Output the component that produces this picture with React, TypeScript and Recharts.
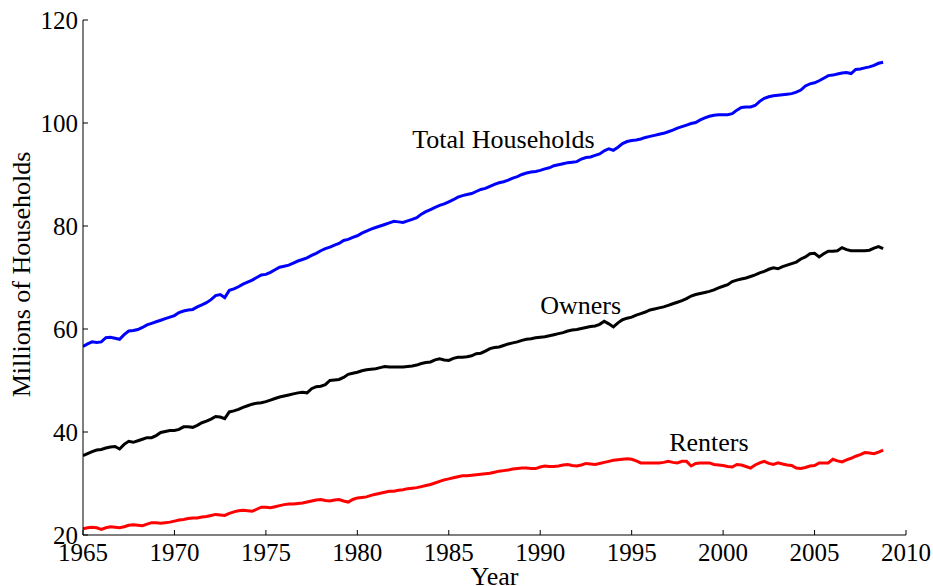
import React from 'react';
import {
  LineChart,
  Line,
  XAxis,
  YAxis,
  ReferenceDot,
  Label,
} from 'recharts';

// quarterly observations, 1965Q1 .. 2008Q4 (millions)
const START_YEAR = 1965;

const totalHouseholds = [
  56.6, 57.1, 57.5, 57.4, 57.5, 58.3, 58.4, 58.2,
  58.0, 58.9, 59.6, 59.7, 59.9, 60.3, 60.8, 61.1,
  61.4, 61.7, 62.0, 62.3, 62.6, 63.2, 63.5, 63.7,
  63.8, 64.3, 64.7, 65.1, 65.7, 66.5, 66.7, 66.1,
  67.5, 67.8, 68.2, 68.7, 69.1, 69.5, 70.0, 70.5,
  70.6, 71.0, 71.5, 72.0, 72.2, 72.4, 72.8, 73.2,
  73.5, 73.8, 74.3, 74.7, 75.2, 75.6, 75.9, 76.3,
  76.6, 77.2, 77.4, 77.8, 78.1, 78.6, 79.0, 79.4,
  79.7, 80.0, 80.3, 80.6, 80.9, 80.8, 80.7, 81.0,
  81.3, 81.6, 82.3, 82.8, 83.2, 83.6, 84.0, 84.3,
  84.7, 85.1, 85.6, 85.9, 86.1, 86.3, 86.7, 87.1,
  87.3, 87.7, 88.1, 88.4, 88.6, 88.9, 89.3, 89.6,
  90.0, 90.3, 90.5, 90.6, 90.8, 91.1, 91.3, 91.7,
  91.9, 92.1, 92.3, 92.4, 92.5, 93.0, 93.3, 93.4,
  93.7, 94.0, 94.6, 95.0, 94.7, 95.3, 96.0, 96.4,
  96.6, 96.7, 96.9, 97.2, 97.4, 97.6, 97.8, 98.0,
  98.3, 98.6, 99.0, 99.3, 99.6, 99.9, 100.1, 100.6,
  101.0, 101.3, 101.5, 101.6, 101.6, 101.6, 101.8, 102.5,
  103.0, 103.1, 103.1, 103.4, 104.2, 104.8, 105.1, 105.3,
  105.4, 105.5, 105.6, 105.7, 106.0, 106.4, 107.2, 107.6,
  107.8, 108.2, 108.7, 109.2, 109.3, 109.5, 109.7, 109.8,
  109.6, 110.4, 110.5, 110.7, 110.9, 111.2, 111.6, 111.8,
];

const owners = [
  35.4, 35.8, 36.2, 36.5, 36.6, 36.9, 37.1, 37.2,
  36.7, 37.6, 38.2, 38.0, 38.3, 38.6, 38.9, 38.9,
  39.3, 39.9, 40.1, 40.3, 40.3, 40.5, 41.0, 41.0,
  40.9, 41.3, 41.8, 42.1, 42.5, 43.0, 42.9, 42.6,
  43.9, 44.1, 44.4, 44.8, 45.1, 45.4, 45.6, 45.7,
  45.9, 46.2, 46.5, 46.8, 47.0, 47.2, 47.4, 47.6,
  47.7, 47.6, 48.4, 48.8, 48.9, 49.2, 50.0, 50.1,
  50.2, 50.6, 51.2, 51.4, 51.6, 51.9, 52.1, 52.2,
  52.3, 52.5, 52.7, 52.6, 52.6, 52.6, 52.6, 52.7,
  52.8, 53.0, 53.3, 53.5, 53.6, 54.0, 54.2, 54.0,
  53.9, 54.3, 54.5, 54.5, 54.6, 54.8, 55.2, 55.3,
  55.7, 56.2, 56.4, 56.5, 56.8, 57.1, 57.3, 57.5,
  57.8, 58.0, 58.1, 58.3, 58.4, 58.5, 58.7, 58.9,
  59.1, 59.3, 59.6, 59.8, 59.9, 60.1, 60.3, 60.5,
  60.6, 60.9, 61.5, 61.0, 60.4, 61.2, 61.8, 62.1,
  62.3, 62.7, 63.0, 63.3, 63.7, 63.9, 64.1, 64.3,
  64.6, 64.9, 65.2, 65.5, 65.9, 66.4, 66.7, 66.9,
  67.1, 67.3, 67.6, 68.0, 68.3, 68.6, 69.2, 69.5,
  69.7, 69.9, 70.2, 70.5, 70.9, 71.2, 71.6, 71.9,
  71.7, 72.1, 72.4, 72.7, 73.0, 73.6, 74.0, 74.6,
  74.7, 74.0, 74.6, 75.1, 75.1, 75.2, 75.8, 75.4,
  75.2, 75.2, 75.2, 75.2, 75.3, 75.7, 76.0, 75.6,
];

const renters = [
  21.2, 21.4, 21.5, 21.4, 21.1, 21.4, 21.6, 21.5,
  21.4, 21.6, 21.9, 22.0, 21.9, 21.8, 22.1, 22.4,
  22.4, 22.3, 22.4, 22.5, 22.7, 22.9, 23.0, 23.2,
  23.3, 23.3, 23.5, 23.6, 23.8, 24.0, 23.9, 23.8,
  24.2, 24.5, 24.7, 24.8, 24.7, 24.6, 25.0, 25.4,
  25.4, 25.3, 25.5, 25.7, 25.9, 26.0, 26.0, 26.1,
  26.2, 26.4, 26.6, 26.8, 26.9, 26.7, 26.6, 26.8,
  26.9, 26.6, 26.4, 26.9, 27.2, 27.3, 27.4, 27.7,
  27.9, 28.1, 28.3, 28.5, 28.5, 28.7, 28.8, 29.0,
  29.1, 29.2, 29.4, 29.6, 29.8, 30.1, 30.4, 30.7,
  30.9, 31.1, 31.3, 31.5, 31.5, 31.6, 31.7, 31.8,
  31.9, 32.0, 32.2, 32.4, 32.5, 32.6, 32.8, 32.9,
  33.0, 33.0, 32.9, 32.9, 33.2, 33.4, 33.3, 33.3,
  33.4, 33.6, 33.7, 33.5, 33.4, 33.6, 33.9, 33.8,
  33.7, 33.9, 34.1, 34.3, 34.5, 34.6, 34.7, 34.8,
  34.7, 34.4, 34.0, 34.0, 34.0, 34.0, 34.0, 34.1,
  34.3, 34.1, 34.0, 34.3, 34.3, 33.4, 33.9, 34.0,
  34.0, 34.0, 33.7, 33.6, 33.5, 33.3, 33.2, 33.7,
  33.6, 33.3, 33.0, 33.6, 34.0, 34.3, 33.9, 33.7,
  34.0, 33.8, 33.6, 33.5, 33.0, 32.9, 33.1, 33.4,
  33.5, 34.0, 34.0, 34.0, 34.7, 34.4, 34.2, 34.6,
  34.9, 35.3, 35.6, 36.0, 35.9, 35.8, 36.1, 36.5,
];

const xTicks = [1965, 1970, 1975, 1980, 1985, 1990, 1995, 2000, 2005, 2010];
const yTicks = [20, 40, 60, 80, 100, 120];

// series labels: [text, year, value at baseline]
const seriesLabels: [string, number, number][] = [
  ['Total Households', 1983.0, 95.2],
  ['Owners', 1990.0, 63.0],
  ['Renters', 1997.05, 36.4],
];

const FONT = '"Liberation Serif", "Times New Roman", serif';

const data = totalHouseholds.map((t, i) => ({
  year: START_YEAR + i * 0.25,
  total: t,
  owners: owners[i],
  renters: renters[i],
}));

const tickStyle = { fontFamily: FONT, fontSize: 25, fill: '#000' };

export default function App() {
  return (
    <div style={{ position: 'absolute', left: 0, top: 0, width: 933, height: 586, background: '#fff' }}>
      <LineChart width={933} height={586} data={data} margin={{ top: 20, right: 27, bottom: 11, left: 23 }}>
        <XAxis
          dataKey="year"
          type="number"
          domain={[1965, 2010]}
          ticks={xTicks}
          allowDataOverflow
          height={40}
          tickSize={-5}
          tickMargin={13}
          tick={tickStyle}
          stroke="#000"
          tickLine={{ stroke: '#000' }}
        >
          <Label
            content={({ viewBox }: any) => (
              <text
                x={viewBox.x + viewBox.width / 2}
                y={585}
                textAnchor="middle"
                fontFamily={FONT}
                fontSize={26}
                fill="#000"
              >
                Year
              </text>
            )}
          />
        </XAxis>
        <YAxis
          type="number"
          domain={[20, 120]}
          ticks={yTicks}
          allowDataOverflow
          width={60}
          tickSize={-5}
          tickMargin={10}
          tick={tickStyle}
          stroke="#000"
          tickLine={{ stroke: '#000' }}
        >
          <Label
            content={({ viewBox }: any) => {
              const cx = 21;
              const cy = viewBox.y + viewBox.height / 2 - 3;
              return (
                <text
                  x={cx}
                  y={cy}
                  transform={`rotate(-90 ${cx} ${cy})`}
                  textAnchor="middle"
                  dominantBaseline="central"
                  fontFamily={FONT}
                  fontSize={26}
                  fill="#000"
                >
                  Millions of Households
                </text>
              );
            }}
          />
        </YAxis>
        <Line type="linear" dataKey="total" stroke="#0000ff" strokeWidth={3} dot={false} isAnimationActive={false} />
        <Line type="linear" dataKey="owners" stroke="#000000" strokeWidth={3} dot={false} isAnimationActive={false} />
        <Line type="linear" dataKey="renters" stroke="#ff0000" strokeWidth={3} dot={false} isAnimationActive={false} />
        {seriesLabels.map(([text, x, y]) => (
          <ReferenceDot
            key={text}
            x={x}
            y={y}
            r={0}
            ifOverflow="visible"
            shape={(p: any) => (
              <text x={p.cx} y={p.cy} fontFamily={FONT} fontSize={26} fill="#000">
                {text}
              </text>
            )}
          />
        ))}
      </LineChart>
    </div>
  );
}
